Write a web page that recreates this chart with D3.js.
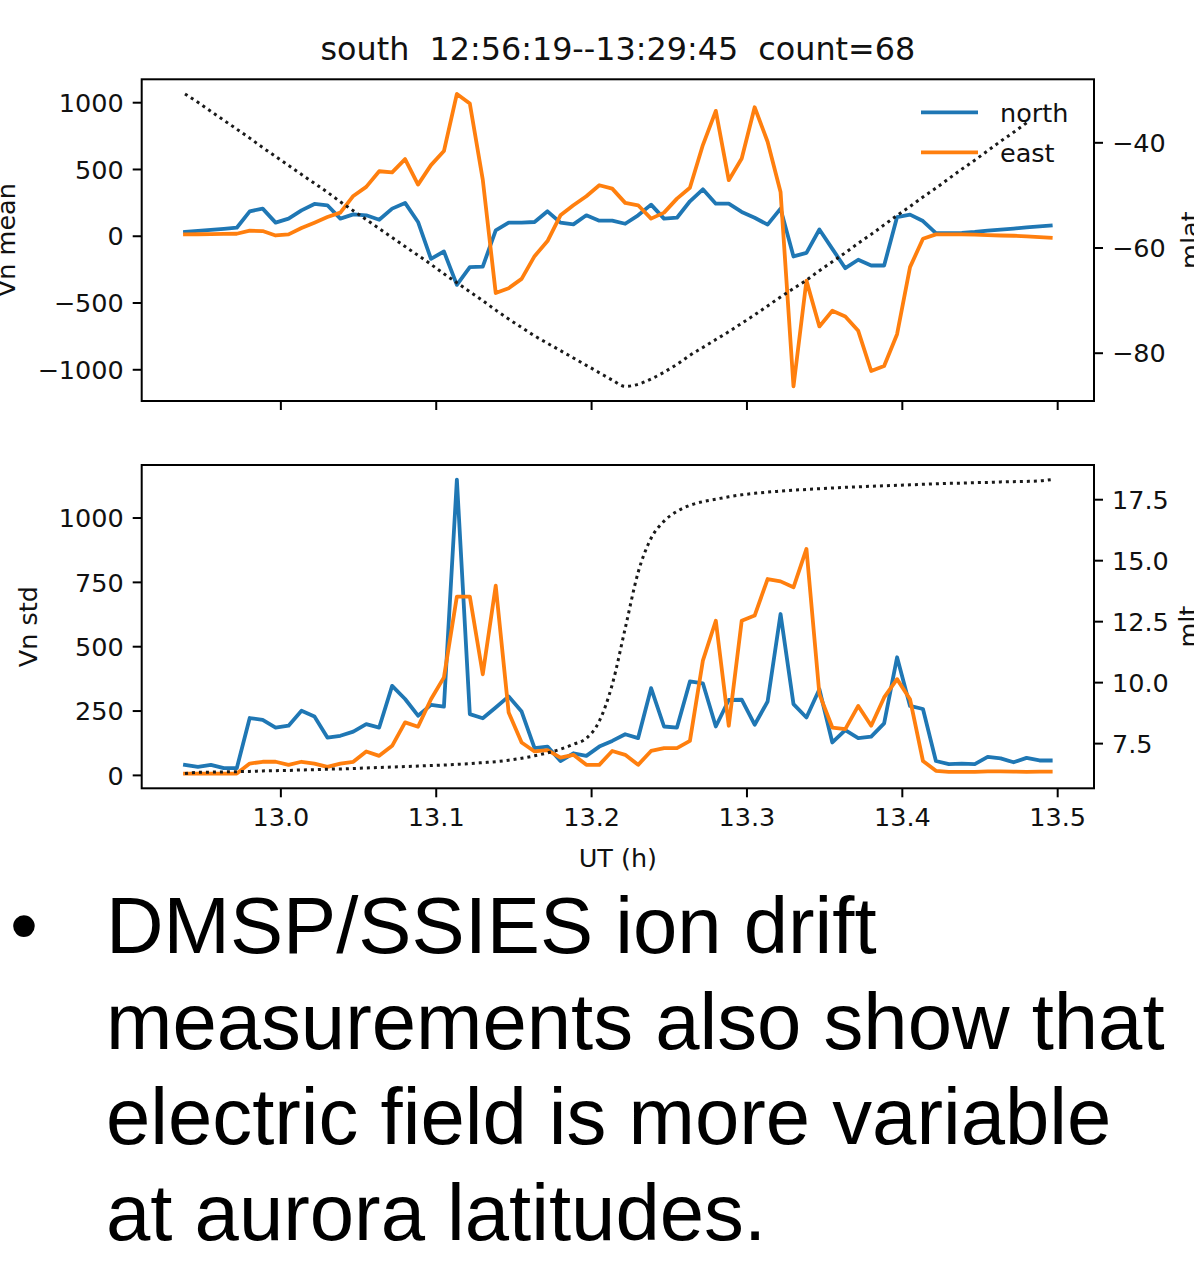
<!DOCTYPE html>
<html>
<head>
<meta charset="utf-8">
<script src="https://cdn.jsdelivr.net/npm/d3@7"></script>
<style>
    html, body { margin: 0; padding: 0; background: #fff; }
    svg { display: block; }
</style>
</head>
<body>
<svg id="visualization" width="1194" height="1273"></svg>
<script>
// sample times (UT), one every ~30 s
const ut = [
    "12:56:19", "12:56:49", "12:57:19", "12:57:49", "12:58:19", "12:58:49", "12:59:19", "12:59:49",
    "13:00:19", "13:00:49", "13:01:19", "13:01:49", "13:02:19", "13:02:49", "13:03:19", "13:03:49",
    "13:04:19", "13:04:49", "13:05:19", "13:05:49", "13:06:19", "13:06:49", "13:07:19", "13:07:49",
    "13:08:19", "13:08:49", "13:09:19", "13:09:49", "13:10:19", "13:10:49", "13:11:19", "13:11:49",
    "13:12:19", "13:12:49", "13:13:19", "13:13:49", "13:14:19", "13:14:49", "13:15:19", "13:15:49",
    "13:16:19", "13:16:49", "13:17:19", "13:17:49", "13:18:19", "13:18:49", "13:19:19", "13:19:49",
    "13:20:19", "13:20:49", "13:21:19", "13:21:49", "13:22:19", "13:22:49", "13:23:19", "13:23:49",
    "13:24:19", "13:24:49", "13:25:19", "13:25:49", "13:26:19", "13:26:49", "13:27:19", "13:27:49",
    "13:28:19", "13:28:49", "13:29:19", "13:29:45"
];

const northMean = [28, 36, 44, 52, 60, 183, 203, 98, 128, 190, 238, 228, 128, 160, 153, 120, 203, 246, 103, -173,
    -118, -368, -235, -231, 40, 98, 98, 103, 183, 98, 85, 153, 113, 113, 90, 153, 233, 128, 135, 258,
    348, 240, 240, 178, 135, 83, 203, -155, -128, 47, -98, -243, -180, -223, -223, 140, 158, 110, 20, 20,
    22, 28, 38, 46, 54, 62, 70, 77];
const eastMean = [10, 11, 12, 14, 15, 38, 35, 2, 10, 58, 98, 140, 173, 298, 366, 483, 474, 574, 383, 529,
    634, 1062, 990, 420, -429, -393, -323, -153, -40, 153, 228, 296, 378, 353, 246, 228, 128, 173, 278, 359,
    679, 935, 416, 579, 962, 704, 328, -1128, -336, -679, -562, -604, -712, -1013, -975, -737, -235, -23, 10, 10,
    10, 8, 5, 2, 0, -5, -10, -15];
const northStd = [39, 31, 39, 26, 26, 221, 214, 184, 191, 249, 227, 145, 152, 168, 197, 184, 346, 295, 230, 272,
    265, 1147, 236, 220, 262, 305, 246, 104, 110, 54, 84, 74, 110, 132, 158, 143, 337, 188, 184, 363,
    356, 188, 291, 292, 195, 285, 625, 275, 223, 333, 126, 174, 143, 149, 200, 457, 268, 256, 54, 42,
    44, 42, 70, 64, 49, 66, 56, 56];
const eastStd = [5, 5, 5, 5, 5, 44, 51, 51, 39, 51, 44, 31, 44, 51, 91, 74, 113, 204, 187, 294,
    379, 693, 693, 391, 735, 242, 126, 91, 96, 67, 78, 39, 39, 93, 78, 39, 93, 104, 104, 132,
    444, 599, 191, 599, 619, 761, 752, 729, 878, 314, 184, 178, 268, 191, 301, 372, 294, 54, 16, 12,
    12, 12, 14, 14, 13, 12, 13, 13];
const mlat = [-30.8, -32.4, -34.1, -35.8, -37.5, -39.2, -41.0, -42.7, -44.4, -46.1, -47.8, -49.5, -51.3, -53.0,
    -54.7, -56.4, -58.1, -59.8, -61.5, -63.2, -65.0, -66.7, -68.4, -70.1, -71.9, -73.6, -75.2, -76.8,
    -78.2, -79.6, -81.0, -82.4, -83.8, -85.2, -86.4, -86.0, -85.0, -83.7, -82.2, -80.5, -79.0, -77.5,
    -76.0, -74.4, -72.8, -71.1, -69.4, -67.8, -66.2, -64.4, -62.7, -61.0, -59.2, -57.5, -55.7, -53.9,
    -52.2, -50.4, -48.7, -46.9, -45.1, -43.4, -41.6, -39.8, -38.1, -36.3, null, null];
const mlt = [6.25, 6.30, 6.31, 6.32, 6.33, 6.34, 6.36, 6.37, 6.38, 6.40, 6.41, 6.43, 6.44, 6.46, 6.48, 6.50,
    6.52, 6.54, 6.56, 6.58, 6.60, 6.63, 6.66, 6.70, 6.74, 6.80, 6.88, 6.98, 7.10, 7.25, 7.45, 7.70,
    8.40, 9.90, 12.2, 14.5, 15.9, 16.6, 17.0, 17.25, 17.4, 17.5, 17.6, 17.68, 17.74, 17.79, 17.83, 17.87,
    17.9, 17.93, 17.96, 17.99, 18.01, 18.03, 18.05, 18.07, 18.09, 18.11, 18.13, 18.15, 18.16, 18.18,
    18.19, 18.21, 18.22, 18.23, 18.25, 18.30];

const xTicks = [13.0, 13.1, 13.2, 13.3, 13.4, 13.5];
const meanTicks = [-1000, -500, 0, 500, 1000];
const stdTicks = [0, 250, 500, 750, 1000];
const mlatTicks = [-80, -60, -40];
const mltTicks = [7.5, 10.0, 12.5, 15.0, 17.5];

const seriesNames = ["north", "east"];
const title = "south  12:56:19--13:29:45  count=68";
const bulletLines = [
    "DMSP/SSIES ion drift",
    "measurements also show that",
    "electric field is more variable",
    "at aurora latitudes."
];

const colors = ["#1f77b4", "#ff7f0e"];
const font = "'DejaVu Sans', sans-serif";
const fontSize = 25.5;

const toHours = s => {
    const [h, m, sec] = s.split(":").map(Number);
    return h + m / 60 + sec / 3600;
};

// matplotlib style 5% margins
const padded = ext => {
    const d = (ext[1] - ext[0]) * 0.05;
    return [ext[0] - d, ext[1] + d];
};

const renderVisualization = () => {
    const svg = d3.select("#visualization");
    svg.append("rect").attr("width", 1194).attr("height", 1273).attr("fill", "#fff");

    const left = 141.7, right = 1094;
    const hours = ut.map(toHours);

    const x = d3.scaleLinear().domain(padded(d3.extent(hours))).range([left, right]);

    const panels = [
        { top: 79.3, bottom: 401, series: [northMean, eastMean], twin: mlat, ticks: meanTicks, twinTicks: mlatTicks,
          twinFormat: d3.format("d"), label: "Vn mean", labelX: 15, twinLabel: "mlat", twinLabelX: 1199, showX: false },
        { top: 465, bottom: 788.3, series: [northStd, eastStd], twin: mlt, ticks: stdTicks, twinTicks: mltTicks,
          twinFormat: d3.format(".1f"), label: "Vn std", labelX: 37, twinLabel: "mlt", twinLabelX: 1197, showX: true }
    ];

    panels.forEach(p => {
        const g = svg.append("g");
        const y = d3.scaleLinear()
            .domain(padded(d3.extent(p.series.flat())))
            .range([p.bottom, p.top]);
        const y2 = d3.scaleLinear()
            .domain(padded(d3.extent(p.twin.filter(v => v !== null))))
            .range([p.bottom, p.top]);

        // data lines
        p.series.forEach((s, i) => {
            g.append("path")
                .datum(s)
                .attr("fill", "none")
                .attr("stroke", colors[i])
                .attr("stroke-width", 3.8)
                .attr("stroke-linejoin", "round")
                .attr("stroke-linecap", "square")
                .attr("d", d3.line().x((d, j) => x(hours[j])).y(d => y(d)));
        });

        // legend (top panel only), drawn below the twin axis line
        if (!p.showX) {
            const leg = g.append("g");
            seriesNames.forEach((name, i) => {
                const ly = 112.3 + i * 40;
                leg.append("line")
                    .attr("x1", 921).attr("x2", 978)
                    .attr("y1", ly).attr("y2", ly)
                    .attr("stroke", colors[i])
                    .attr("stroke-width", 3.8);
                leg.append("text")
                    .attr("x", 1000).attr("y", ly + 9.5)
                    .attr("font-family", font)
                    .attr("font-size", fontSize)
                    .attr("fill", "#111")
                    .text(name);
            });
        }

        // twin axis dotted line
        g.append("path")
            .datum(p.twin)
            .attr("fill", "none")
            .attr("stroke", "#1a1a1a")
            .attr("stroke-width", 3)
            .attr("stroke-dasharray", "3,4")
            .attr("d", d3.line()
                .defined(d => d !== null)
                .curve(d3.curveMonotoneX)
                .x((d, j) => x(hours[j]))
                .y(d => y2(d)));

        // axes
        const yAxis = g.append("g")
            .attr("transform", `translate(${left},0)`)
            .call(d3.axisLeft(y).tickValues(p.ticks).tickSize(9).tickPadding(9).tickFormat(d3.format("d")));
        const y2Axis = g.append("g")
            .attr("transform", `translate(${right},0)`)
            .call(d3.axisRight(y2).tickValues(p.twinTicks).tickSize(9).tickPadding(9).tickFormat(p.twinFormat));
        const xAxis = g.append("g")
            .attr("transform", `translate(0,${p.bottom})`)
            .call(d3.axisBottom(x).tickValues(xTicks).tickSize(9).tickPadding(9).tickFormat(p.showX ? d3.format(".1f") : ""));

        [yAxis, y2Axis, xAxis].forEach(a => {
            a.select(".domain").remove();
            a.selectAll(".tick line").attr("stroke", "#000").attr("stroke-width", 2);
            a.selectAll(".tick text")
                .attr("font-family", font)
                .attr("font-size", fontSize)
                .attr("fill", "#111");
        });
        yAxis.selectAll(".tick text").attr("dy", "0.36em");
        y2Axis.selectAll(".tick text").attr("dy", "0.36em");
        xAxis.selectAll(".tick text").attr("dy", "0.76em");

        // spines
        g.append("rect")
            .attr("x", left).attr("y", p.top)
            .attr("width", right - left).attr("height", p.bottom - p.top)
            .attr("fill", "none")
            .attr("stroke", "#000")
            .attr("stroke-width", 2);

        // axis labels (partly off the slide edge, as in the source)
        const midY = (p.top + p.bottom) / 2;
        g.append("text")
            .attr("transform", `translate(${p.labelX},${midY}) rotate(-90)`)
            .attr("text-anchor", "middle")
            .attr("font-family", font)
            .attr("font-size", fontSize)
            .attr("fill", "#111")
            .text(p.label);
        g.append("text")
            .attr("transform", `translate(${p.twinLabelX},${midY}) rotate(-90)`)
            .attr("text-anchor", "middle")
            .attr("font-family", font)
            .attr("font-size", fontSize)
            .attr("fill", "#111")
            .text(p.twinLabel);

        if (p.showX) {
            g.append("text")
                .attr("x", (left + right) / 2)
                .attr("y", 867)
                .attr("text-anchor", "middle")
                .attr("font-family", font)
                .attr("font-size", fontSize)
                .attr("fill", "#111")
                .text("UT (h)");
        }
    });

    // title
    svg.append("text")
        .attr("x", (left + right) / 2)
        .attr("y", 60)
        .attr("text-anchor", "middle")
        .attr("font-family", font)
        .attr("font-size", 31.8)
        .attr("fill", "#111")
        .style("white-space", "pre")
        .attr("xml:space", "preserve")
        .text(title);

    // slide bullet text
    const bullet = svg.append("g")
        .attr("font-family", "'Liberation Sans', Arial, sans-serif")
        .attr("font-size", 79.7)
        .attr("fill", "#000");
    bullet.append("text").attr("x", 10).attr("y", 953).text("•");
    bullet.selectAll("text.line")
        .data(bulletLines)
        .join("text")
        .attr("class", "line")
        .attr("x", 106)
        .attr("y", (d, i) => 953 + i * 95.7)
        .text(d => d);
};

renderVisualization();
</script>
</body>
</html>
